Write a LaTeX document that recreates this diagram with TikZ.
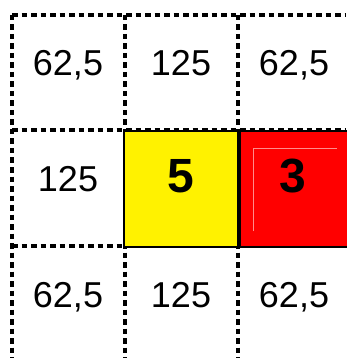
\documentclass[tikz,border=0pt]{standalone}
\usepackage{fontspec}
\setmainfont{Liberation Sans}
\usetikzlibrary{positioning}

\begin{document}
\begin{tikzpicture}[
    x=1pt, y=-1pt,
    grid/.style={line width=3.4pt, dash pattern=on 5.5pt off 4pt},
    val/.style={anchor=base, inner sep=0pt, font=\fontsize{36}{36}\selectfont},
    big/.style={anchor=base, inner sep=0pt, font=\fontsize{48}{48}\selectfont\bfseries},
    cell/.style={draw, line width=1.8pt, fill=#1, inner sep=0pt}]
  \useasboundingbox (0,0) rectangle (346,358);
  %% Dashed grid
  \draw[grid] (12,15) -- (346,15);
  \draw[grid] (12,130) -- (346,130);
  \draw[grid] (12,246) -- (346,246);
  \foreach \x in {12,125,238}
    \draw[grid] (\x,15) -- (\x,358);
  %% Coloured cells
  \node[cell=yellow, minimum width=114pt, minimum height=116pt] (five) at (181,189) {};
  \node[cell=red, minimum width=108pt, minimum height=116pt, right=0pt of five] (three) {};
  \draw[red!45!white, line width=0.6pt] (253,231) -- (253,148) -- (337,148);
  %% Values
  \node[val] (tl) at (68,76)  {62,5};
  \node[val] (tc) at (181,76) {125};
  \node[val] (tr) at (294,76) {62,5};
  \node[val] (ml) at (68,191) {125};
  \node[big] (n5) at (181,192) {5};
  \node[big] (n3) at (293,192) {3};
  \node[val] (bl) at (68,307)  {62,5};
  \node[val] (bc) at (181,307) {125};
  \node[val] (br) at (294,307) {62,5};
\end{tikzpicture}
\end{document}
